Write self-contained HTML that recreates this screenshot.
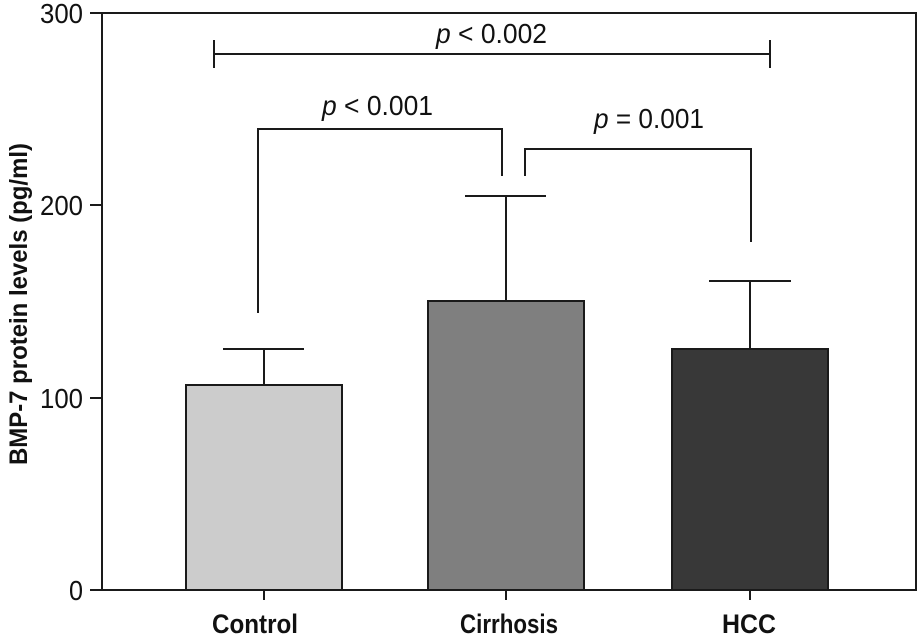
<!DOCTYPE html>
<html><head><meta charset="utf-8"><style>
html,body{margin:0;padding:0;background:#fff;}
svg{display:block;}
text{font-family:"Liberation Sans",sans-serif;fill:#111;}
</style></head><body>
<svg width="918" height="638" viewBox="0 0 918 638" xmlns="http://www.w3.org/2000/svg">
<g stroke="#1a1a1a" stroke-width="2" fill="none">
<rect x="102" y="13" width="814" height="577"/>
<line x1="90" y1="13" x2="102" y2="13"/>
<line x1="90" y1="205" x2="102" y2="205"/>
<line x1="90" y1="398" x2="102" y2="398"/>
<line x1="90" y1="590" x2="102" y2="590"/>
<line x1="264" y1="590" x2="264" y2="600"/>
<line x1="506" y1="590" x2="506" y2="600"/>
<line x1="750" y1="590" x2="750" y2="600"/>
</g>
<g stroke="#1a1a1a" stroke-width="2">
<rect x="186" y="385" width="156" height="205" fill="#cccccc"/>
<rect x="428" y="301" width="156" height="289" fill="#7f7f7f"/>
<rect x="672" y="349" width="156" height="241" fill="#383838"/>
<line x1="264" y1="385" x2="264" y2="349"/><line x1="223" y1="349" x2="304" y2="349"/>
<line x1="506" y1="301" x2="506" y2="196"/><line x1="465" y1="196" x2="546" y2="196"/>
<line x1="750" y1="349" x2="750" y2="281"/><line x1="709" y1="281" x2="791" y2="281"/>
<line x1="214" y1="54" x2="770" y2="54"/>
<line x1="214" y1="40" x2="214" y2="68"/><line x1="770" y1="40" x2="770" y2="68"/>
<polyline points="258,313 258,129 502,129 502,176" fill="none"/>
<polyline points="525,176 525,149 751,149 751,242" fill="none"/>
</g>
<g font-size="28">
<text x="40" y="23" textLength="43" lengthAdjust="spacingAndGlyphs">300</text>
<text x="40" y="215" textLength="43" lengthAdjust="spacingAndGlyphs">200</text>
<text x="40" y="408" textLength="43" lengthAdjust="spacingAndGlyphs">100</text>
<text x="69" y="600" textLength="14" lengthAdjust="spacingAndGlyphs">0</text>
</g>
<g font-size="27" font-weight="bold">
<text x="212" y="633" textLength="86" lengthAdjust="spacingAndGlyphs">Control</text>
<text x="460" y="633" textLength="98" lengthAdjust="spacingAndGlyphs">Cirrhosis</text>
<text x="722" y="633" textLength="54" lengthAdjust="spacingAndGlyphs">HCC</text>
</g>
<text font-size="25" font-weight="bold" transform="translate(27,465) rotate(-90)" textLength="322" lengthAdjust="spacingAndGlyphs">BMP-7 protein levels (pg/ml)</text>
<g font-size="28">
<text x="436" y="43" textLength="111" lengthAdjust="spacingAndGlyphs"><tspan font-style="italic">p</tspan> &lt; 0.002</text>
<text x="322" y="115" textLength="111" lengthAdjust="spacingAndGlyphs"><tspan font-style="italic">p</tspan> &lt; 0.001</text>
<text x="594" y="128" textLength="110" lengthAdjust="spacingAndGlyphs"><tspan font-style="italic">p</tspan> = 0.001</text>
</g>
</svg>
</body></html>
